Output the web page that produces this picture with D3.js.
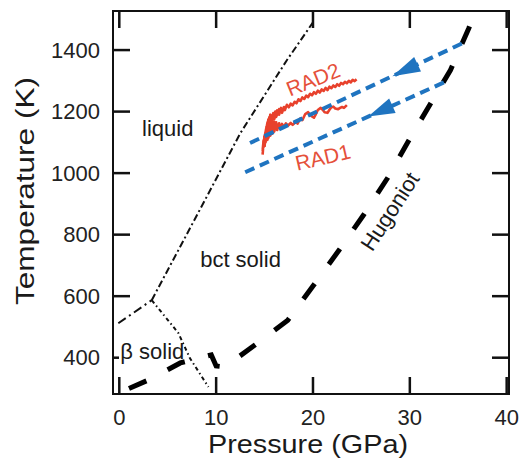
<!DOCTYPE html>
<html>
<head>
<meta charset="utf-8">
<script src="https://cdn.jsdelivr.net/npm/d3@7"></script>
<style>
  body { margin: 0; background: #fff; }
  text { font-family: "Liberation Sans", Arial, sans-serif; }
</style>
</head>
<body>
<svg id="chart"></svg>
<script>
// axis ticks
const xTicks = [0, 10, 20, 30, 40];
const yTicks = [400, 600, 800, 1000, 1200, 1400];

// phase boundaries [P (GPa), T (K)]
const meltLine = [[3.35, 587], [8.3, 880], [12.5, 1130], [17.3, 1367], [20.0, 1490]];
const betaLiquidLine = [[-0.1, 512], [3.35, 587]];
const betaBctLine = [[3.35, 587], [6.1, 480], [7.3, 398], [9.2, 305]];

// Hugoniot
const hugoniot = [
  [1.0, 300], [3.2, 330], [6.3, 383], [9.5, 409], [10.0, 373], [10.9, 370],
  [14.0, 441], [17.4, 522], [20.0, 633], [22.7, 750], [25.2, 863], [27.7, 984],
  [29.8, 1101], [32.1, 1224], [34.2, 1335], [36.1, 1472], [36.7, 1520]
];

// release paths (blue) and arrow heads [tip, base]
const releaseUpper = [[13.5, 1098], [35.7, 1426]];
const releaseLower = [[13.0, 1003], [33.6, 1296]];
const arrowUpper = [[28.2, 1315], [30.8, 1354]];
const arrowLower = [[25.7, 1184], [28.2, 1219]];

// radiometer traces
const rad2 = [
  [15.0, 1085], [15.1, 1130], [14.9, 1100], [15.2, 1150], [15.0, 1112], [15.3, 1165], [15.1, 1125],
  [15.4, 1175], [15.2, 1138], [15.5, 1182], [15.3, 1145], [15.6, 1190], [15.5, 1150], [15.8, 1185],
  [15.6, 1160], [15.9, 1195], [15.8, 1170], [16.1, 1200], [16.0, 1176], [16.3, 1204], [16.2, 1183],
  [16.5, 1208], [16.5, 1190], [16.7, 1212], [16.8, 1196], [17.0, 1215], [17.1, 1205], [17.3, 1222],
  [17.5, 1214], [17.7, 1226], [17.9, 1220], [18.1, 1232], [18.3, 1227], [18.5, 1240], [18.7, 1234],
  [18.9, 1246], [19.1, 1241], [19.3, 1252], [19.5, 1247], [19.7, 1258], [19.9, 1253], [20.1, 1263],
  [20.3, 1258], [20.5, 1268], [20.7, 1262], [20.9, 1272], [21.1, 1267], [21.3, 1277], [21.5, 1270],
  [21.7, 1281], [21.9, 1276], [22.1, 1285], [22.3, 1280], [22.5, 1289], [22.7, 1284], [22.9, 1293],
  [23.1, 1289], [23.3, 1297], [23.5, 1292], [23.7, 1300], [23.9, 1295], [24.1, 1303], [24.3, 1299],
  [24.5, 1305]
];
const rad1 = [
  [14.8, 1060], [14.9, 1105], [14.8, 1075], [15.0, 1120], [14.9, 1085], [15.1, 1130], [15.0, 1092],
  [15.2, 1140], [15.1, 1100], [15.3, 1148], [15.3, 1108], [15.5, 1155], [15.4, 1115], [15.6, 1160],
  [15.6, 1122], [15.8, 1165], [15.8, 1128], [16.0, 1168], [16.0, 1135], [16.2, 1165], [16.3, 1140],
  [16.5, 1162], [16.6, 1145], [16.8, 1160], [17.0, 1150], [17.2, 1162], [17.4, 1154], [17.7, 1163],
  [17.9, 1157], [18.2, 1166], [18.4, 1161], [18.7, 1178], [18.9, 1172], [19.2, 1192], [19.5, 1198],
  [19.7, 1190], [19.9, 1184], [20.1, 1180], [20.3, 1192], [20.5, 1205], [20.8, 1212], [21.0, 1206],
  [21.2, 1198], [21.5, 1196], [21.7, 1206], [21.9, 1214], [22.1, 1216], [22.3, 1210], [22.6, 1208],
  [22.8, 1212], [23.0, 1215], [23.2, 1212], [23.5, 1221]
];

const width = 520, height = 461;
const margin = { top: 11, right: 11, bottom: 67, left: 113 };
const w = width - margin.left - margin.right;
const h = height - margin.top - margin.bottom;

const svg = d3.select('#chart').attr('width', width).attr('height', height);

const x = d3.scaleLinear().domain([-0.65, 40.24]).range([0, w]);
const y = d3.scaleLinear().domain([282, 1527]).range([h, 0]);

const g = svg.append('g').attr('transform', `translate(${margin.left},${margin.top})`);
const line = d3.line().x(d => x(d[0])).y(d => y(d[1]));

// frame
g.append('rect').attr('width', w).attr('height', h)
  .attr('fill', 'none').attr('stroke', '#111').attr('stroke-width', 2);

// tick labels
g.selectAll('.xlab').data(xTicks).join('text')
  .attr('class', 'xlab')
  .attr('x', d => x(d)).attr('y', h + 31)
  .attr('text-anchor', 'middle').attr('fill', '#222')
  .style('font-size', '22px')
  .text(d => d);
g.selectAll('.ylab').data(yTicks).join('text')
  .attr('class', 'ylab')
  .attr('x', -13).attr('y', d => y(d)).attr('dy', '0.35em')
  .attr('text-anchor', 'end').attr('fill', '#222')
  .style('font-size', '22px')
  .text(d => d);

// phase boundaries
g.append('path').attr('d', line(meltLine))
  .attr('fill', 'none').attr('stroke', '#111').attr('stroke-width', 2)
  .attr('stroke-dasharray', '7,3,2,3');
g.append('path').attr('d', line(betaLiquidLine))
  .attr('fill', 'none').attr('stroke', '#111').attr('stroke-width', 2)
  .attr('stroke-dasharray', '9,4,2,4');
g.append('path').attr('d', line(betaBctLine))
  .attr('fill', 'none').attr('stroke', '#111').attr('stroke-width', 2)
  .attr('stroke-dasharray', '4,3,1.5,3');

// Hugoniot
g.append('path').attr('d', line(hugoniot))
  .attr('fill', 'none').attr('stroke', '#000').attr('stroke-width', 5)
  .attr('stroke-dasharray', '19,24');

// red radiometer traces
[rad2, rad1].forEach(tr => {
  g.append('path').attr('d', line(tr))
    .attr('fill', 'none').attr('stroke', '#e8412c').attr('stroke-width', 2.6)
    .attr('stroke-linejoin', 'round');
});

// blue release paths
[releaseUpper, releaseLower].forEach(r => {
  g.append('path').attr('d', line(r))
    .attr('fill', 'none').attr('stroke', '#1f74c0').attr('stroke-width', 4)
    .attr('stroke-dasharray', '10,6');
});

// arrow heads pointing down the release path
[arrowUpper, arrowLower].forEach(a => {
  const tx = x(a[0][0]), ty = y(a[0][1]);
  const bx = x(a[1][0]), by = y(a[1][1]);
  const dx = bx - tx, dy = by - ty, len = Math.hypot(dx, dy);
  const nx = -dy / len * 8, ny = dx / len * 8;
  g.append('path')
    .attr('d', `M${tx},${ty}L${bx + nx},${by + ny}L${bx - nx},${by - ny}Z`)
    .attr('fill', '#1f74c0');
});

// region labels
const label = (txt, p, t, opts = {}) => {
  const el = g.append('text')
    .attr('x', x(p)).attr('y', y(t))
    .attr('fill', opts.color || '#1a1a1a')
    .style('font-size', (opts.size || 22) + 'px')
    .attr('text-anchor', opts.anchor || 'start')
    .text(txt);
  if (opts.rotate) el.attr('transform', `rotate(${opts.rotate},${x(p)},${y(t)})`);
  return el;
};

label('liquid', 2.35, 1120);
label('bct solid', 8.35, 695);
label('β solid', 0.1, 395);
label('RAD2', 20.3, 1282, { color: '#e5503a', size: 21, anchor: 'middle', rotate: -22 });
label('RAD1', 21.2, 1028, { color: '#e5503a', size: 21, anchor: 'middle', rotate: -13 });
label('Hugoniot', 28.6, 862, { anchor: 'middle', rotate: -57 });

// tick marks as small filled bars, inward on all four sides
const tickLen = 17, tw = 2.5;
const ticks = svg.append('g').attr('fill', '#111');
xTicks.forEach(v => {
  const px = margin.left + x(v) - tw / 2;
  ticks.append('rect').attr('x', px).attr('y', margin.top + h - tickLen).attr('width', tw).attr('height', tickLen);
  ticks.append('rect').attr('x', px).attr('y', margin.top).attr('width', tw).attr('height', tickLen);
});
yTicks.forEach(v => {
  const py = margin.top + y(v) - tw / 2;
  ticks.append('rect').attr('x', margin.left).attr('y', py).attr('width', v === 400 ? 6 : tickLen).attr('height', tw);
  ticks.append('rect').attr('x', margin.left + w - tickLen).attr('y', py).attr('width', tickLen).attr('height', tw);
});

// axis titles
svg.append('text')
  .attr('x', 308).attr('y', 453)
  .attr('text-anchor', 'middle')
  .attr('textLength', 200).attr('lengthAdjust', 'spacingAndGlyphs')
  .attr('fill', '#1a1a1a')
  .style('font-size', '26px')
  .text('Pressure (GPa)');

svg.append('text')
  .attr('transform', 'translate(34,191) rotate(-90)')
  .attr('text-anchor', 'middle')
  .attr('textLength', 228).attr('lengthAdjust', 'spacingAndGlyphs')
  .attr('fill', '#1a1a1a')
  .style('font-size', '26px')
  .text('Temperature (K)');
</script>
</body>
</html>
